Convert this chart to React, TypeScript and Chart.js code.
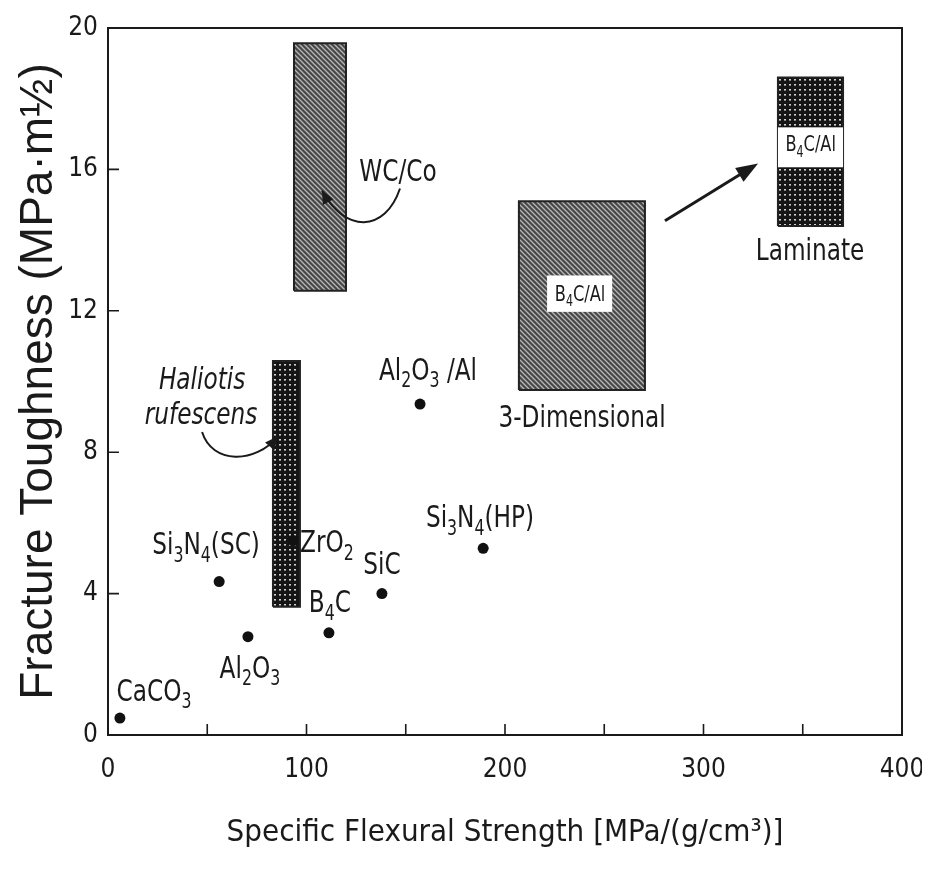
import React, { useEffect, useRef } from "react";
import { Chart, registerables } from "chart.js";

Chart.register(...registerables);

// ---------- data ----------
const xTickValues = [0, 100, 200, 300, 400];
const yTickValues = [0, 4, 8, 12, 16, 20];
const xInnerTicks = [50, 100, 150, 200, 250, 300, 350];
const yInnerTicks = [4, 8, 12, 16];

const materialNames = ["CaCO_3", "Si_3N_4(SC)", "Al_2O_3", "ZrO_2", "B_4C", "SiC", "Al_2O_3 /Al", "Si_3N_4(HP)"];
const materialStrength = [6, 56, 70.5, 93.2, 111.3, 138, 157.2, 189];
const materialToughness = [0.48, 4.34, 2.78, 5.5, 2.89, 4.0, 9.36, 5.28];
const materialLabelX = [23.2, 49.4, 71.5, 110.3, 111.8, 138, 161.2, 187.4];
const materialLabelY = [1.19, 5.33, 1.84, 5.39, 3.69, 4.77, 10.27, 6.1];

const regionNames = ["WC/Co", "Haliotis rufescens", "B4C/Al 3-Dimensional", "B4C/Al Laminate"];
const regionXMin = [93.7, 83.1, 207, 337.5];
const regionXMax = [119.9, 96.7, 270.5, 370.3];
const regionYMin = [12.57, 3.63, 9.76, 14.4];
const regionYMax = [19.57, 10.58, 15.1, 18.6];
const regionTexture = ["hatch", "dots", "hatch", "dots"];

// free text annotations (data coordinates)
const noteTexts = ["WC/Co", "Haliotis", "rufescens", "3-Dimensional", "Laminate"];
const noteX = [146.1, 47.4, 46.9, 238.8, 353.7];
const noteY = [15.89, 10.01, 9.02, 8.94, 13.67];
const noteItalic = [false, true, true, false, false];

// labels inside regions, with white backgrounds
const insetText = ["B_4C/Al", "B_4C/Al"];
const insetX = [237.8, 354];
const insetY = [12.45, 16.68];
const insetBoxX0 = [221.2, 337.5];
const insetBoxX1 = [254, 370.3];
const insetBoxY0 = [11.97, 16.06];
const insetBoxY1 = [13.0, 17.19];

// curved arrows: start, control1, control2, end (data coordinates)
const curveArrows = [
  [[147.1, 15.46], [139.5, 14.2], [119.4, 14.2], [107.8, 15.4]],
  [[47.4, 8.57], [52.4, 7.66], [74.1, 7.66], [85.6, 8.45]],
];
// straight arrow
const straightArrowFrom = [280.6, 14.55];
const straightArrowTo = [327.5, 16.17];

const NARROW = "'Liberation Sans Narrow', 'DejaVu Sans Condensed', sans-serif";
const REGULAR = "'Liberation Sans', Arial, sans-serif";
const INK = "#1a1a1a";

function makePattern(ctx: CanvasRenderingContext2D, kind: string) {
  const c = document.createElement("canvas");
  const s = 5;
  c.width = s;
  c.height = s;
  const g = c.getContext("2d")!;
  if (kind === "hatch") {
    g.fillStyle = "#474747";
    g.fillRect(0, 0, s, s);
    g.strokeStyle = "#b8b8b8";
    g.lineWidth = 1.3;
    g.beginPath();
    g.moveTo(-1, -1);
    g.lineTo(s + 1, s + 1);
    g.moveTo(-1, s - 1);
    g.lineTo(1, s + 1);
    g.moveTo(s - 1, -1);
    g.lineTo(s + 1, 1);
    g.stroke();
  } else {
    g.fillStyle = "#151515";
    g.fillRect(0, 0, s, s);
    g.fillStyle = "#d0d0d0";
    g.fillRect(1, 1, 2, 1.6);
  }
  return ctx.createPattern(c, "repeat");
}

function drawRich(
  ctx: CanvasRenderingContext2D,
  text: string,
  cx: number,
  cy: number,
  size: number,
  family: string,
  italic = false,
  hScale = 0.86
) {
  const parts: { t: string; sub: boolean }[] = [];
  let i = 0;
  while (i < text.length) {
    if (text[i] === "_") {
      parts.push({ t: text[i + 1], sub: true });
      i += 2;
    } else {
      let j = i;
      while (j < text.length && text[j] !== "_") j++;
      parts.push({ t: text.slice(i, j), sub: false });
      i = j;
    }
  }
  const font = (s: number) => `${italic ? "italic " : ""}${s}px ${family}`;
  let w = 0;
  for (const p of parts) {
    ctx.font = font(p.sub ? size * 0.68 : size);
    w += ctx.measureText(p.t).width;
  }
  ctx.save();
  ctx.translate(cx, cy);
  ctx.scale(hScale, 1);
  let x = -w / 2;
  ctx.textAlign = "left";
  ctx.textBaseline = "middle";
  for (const p of parts) {
    ctx.font = font(p.sub ? size * 0.68 : size);
    ctx.fillText(p.t, x, p.sub ? size * 0.34 : 0);
    x += ctx.measureText(p.t).width;
  }
  ctx.restore();
}

function arrowHead(ctx: CanvasRenderingContext2D, fx: number, fy: number, tx: number, ty: number, len: number, half: number) {
  const a = Math.atan2(ty - fy, tx - fx);
  ctx.beginPath();
  ctx.moveTo(tx, ty);
  ctx.lineTo(tx - len * Math.cos(a) + half * Math.sin(a), ty - len * Math.sin(a) - half * Math.cos(a));
  ctx.lineTo(tx - len * Math.cos(a) - half * Math.sin(a), ty - len * Math.sin(a) + half * Math.cos(a));
  ctx.closePath();
  ctx.fill();
}

const decorPlugin = {
  id: "decor",
  afterDatasetsDraw(chart: any) {
    const { ctx, chartArea: a, scales } = chart;
    const xs = scales.x;
    const ys = scales.y;
    const px = (v: number) => xs.getPixelForValue(v);
    const py = (v: number) => ys.getPixelForValue(v);
    ctx.save();
    // frame
    ctx.strokeStyle = INK;
    ctx.lineWidth = 2;
    ctx.strokeRect(a.left, a.top, a.right - a.left, a.bottom - a.top);
    // inner ticks
    ctx.lineWidth = 1.6;
    ctx.beginPath();
    for (const v of xInnerTicks) {
      const x = px(v);
      ctx.moveTo(x, a.bottom);
      ctx.lineTo(x, a.bottom - 11);
    }
    for (const v of yInnerTicks) {
      const y = py(v);
      ctx.moveTo(a.left, y);
      ctx.lineTo(a.left + 11, y);
    }
    ctx.stroke();

    // inset white boxes and labels
    for (let i = 0; i < insetText.length; i++) {
      ctx.fillStyle = "#ffffff";
      const x0 = px(insetBoxX0[i]);
      const x1 = px(insetBoxX1[i]);
      const y0 = py(insetBoxY1[i]);
      const y1 = py(insetBoxY0[i]);
      ctx.fillRect(x0, y0, x1 - x0, y1 - y0);
      ctx.fillStyle = INK;
      drawRich(ctx, insetText[i], px(insetX[i]), py(insetY[i]), 22, NARROW, false, 0.82);
    }

    // material labels
    ctx.fillStyle = INK;
    for (let i = 0; i < materialNames.length; i++) {
      drawRich(ctx, materialNames[i], px(materialLabelX[i]), py(materialLabelY[i]), 30, NARROW);
    }
    // notes
    for (let i = 0; i < noteTexts.length; i++) {
      drawRich(ctx, noteTexts[i], px(noteX[i]), py(noteY[i]), 30, NARROW, noteItalic[i]);
    }

    // curved arrows
    ctx.strokeStyle = INK;
    ctx.fillStyle = INK;
    ctx.lineWidth = 2;
    for (const c of curveArrows) {
      const [s, c1, c2, e] = c;
      ctx.beginPath();
      ctx.moveTo(px(s[0]), py(s[1]));
      ctx.bezierCurveTo(px(c1[0]), py(c1[1]), px(c2[0]), py(c2[1]), px(e[0]), py(e[1]));
      ctx.stroke();
      arrowHead(ctx, px(c2[0]), py(c2[1]), px(e[0]), py(e[1]), 13, 6);
    }
    // straight arrow
    ctx.lineWidth = 3;
    const fx = px(straightArrowFrom[0]);
    const fy = py(straightArrowFrom[1]);
    const tx = px(straightArrowTo[0]);
    const ty = py(straightArrowTo[1]);
    const ang = Math.atan2(ty - fy, tx - fx);
    ctx.beginPath();
    ctx.moveTo(fx, fy);
    ctx.lineTo(tx - 14 * Math.cos(ang), ty - 14 * Math.sin(ang));
    ctx.stroke();
    arrowHead(ctx, fx, fy, tx, ty, 22, 8);
    ctx.restore();
  },
};

export default function App() {
  const canvasRef = useRef<HTMLCanvasElement | null>(null);

  useEffect(() => {
    const canvas = canvasRef.current!;
    const ctx = canvas.getContext("2d")!;
    const regionSets = regionNames.map((name, i) => ({
      type: "line" as const,
      label: name,
      data: [
        { x: regionXMin[i], y: regionYMin[i] },
        { x: regionXMax[i], y: regionYMin[i] },
        { x: regionXMax[i], y: regionYMax[i] },
        { x: regionXMin[i], y: regionYMax[i] },
        { x: regionXMin[i], y: regionYMin[i] },
      ],
      showLine: true,
      fill: "shape",
      backgroundColor: makePattern(ctx, regionTexture[i]),
      borderColor: "#222",
      borderWidth: 2,
      pointRadius: 0,
      tension: 0,
      order: 2,
    }));
    const pointSet = {
      type: "scatter" as const,
      label: "Materials",
      data: materialStrength.map((x, i) => ({ x, y: materialToughness[i] })),
      backgroundColor: "#111",
      borderWidth: 0,
      pointRadius: 5.5,
      order: 1,
    };

    const chart = new Chart(canvas, {
      type: "scatter",
      data: { datasets: [...regionSets, pointSet] as any },
      options: {
        animation: false,
        responsive: true,
        maintainAspectRatio: false,
        layout: { padding: { left: 0, right: 20, top: 20, bottom: 0 } },
        plugins: { legend: { display: false }, tooltip: { enabled: false } },
        scales: {
          x: {
            type: "linear",
            min: 0,
            max: 400,
            afterBuildTicks: (s: any) => {
              s.ticks = xTickValues.map((v) => ({ value: v }));
            },
            afterFit: (s: any) => {
              s.height = 142;
              s.paddingLeft = 0;
              s.paddingRight = 0;
            },
            grid: { display: false, drawTicks: false },
            border: { display: false },
            ticks: { font: { family: NARROW, size: 26 }, color: INK, padding: 20 },
            title: {
              display: true,
              text: "Specific Flexural Strength [MPa/(g/cm³)]",
              font: { family: NARROW, size: 31 },
              color: INK,
              padding: { top: 0, bottom: 25 },
            },
          },
          y: {
            type: "linear",
            min: 0,
            max: 20,
            afterBuildTicks: (s: any) => {
              s.ticks = yTickValues.map((v) => ({ value: v }));
            },
            afterFit: (s: any) => {
              s.width = 100;
              s.paddingTop = 0;
              s.paddingBottom = 0;
            },
            grid: { display: false, drawTicks: false },
            border: { display: false },
            ticks: { font: { family: NARROW, size: 26 }, color: INK, padding: 10 },
            title: {
              display: true,
              text: "Fracture Toughness (MPa·m½)",
              font: { family: REGULAR, size: 46 },
              color: INK,
              padding: { top: 4, bottom: 0 },
            },
          },
        },
      } as any,
      plugins: [decorPlugin],
    });
    return () => chart.destroy();
  }, []);

  return (
    <div style={{ width: 914, height: 869, position: "relative" }}>
      <canvas ref={canvasRef} />
    </div>
  );
}
